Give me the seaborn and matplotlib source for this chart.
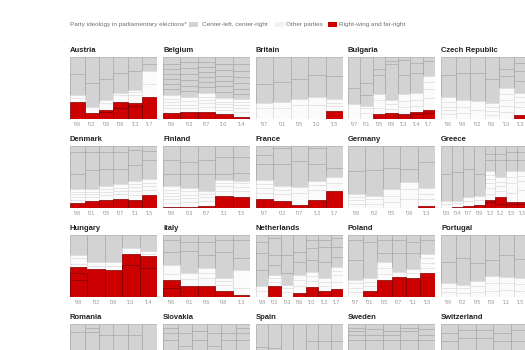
import pandas as pd
import matplotlib.pyplot as plt
import seaborn as sns
from matplotlib.patches import Rectangle

# vote shares per election, each bar listed bottom-up as party segments
countries = ['Austria', 'Belgium', 'Britain', 'Bulgaria', 'Czech Republic',
             'Denmark', 'Finland', 'France', 'Germany', 'Greece',
             'Hungary', 'Italy', 'Netherlands', 'Poland', 'Portugal',
             'Romania', 'Slovakia', 'Spain', 'Sweden', 'Switzerland']

years = {
    'Austria': ['99', '02', '06', '08', '13', '17'],
    'Belgium': ['99', '03', '07', '10', '14'],
    'Britain': ['97', '01', '05', '10', '15'],
    'Bulgaria': ['97', '01', '05', '09', '13', '14', '17'],
    'Czech Republic': ['96', '98', '02', '06', '10', '13'],
    'Denmark': ['98', '01', '05', '07', '11', '15'],
    'Finland': ['99', '03', '07', '11', '15'],
    'France': ['97', '02', '07', '12', '17'],
    'Germany': ['98', '02', '05', '09', '13'],
    'Greece': ['00', '04', '07', '09', '12', '12', '15', '15'],
    'Hungary': ['98', '02', '06', '10', '14'],
    'Italy': ['96', '01', '06', '08', '13'],
    'Netherlands': ['98', '02', '03', '06', '10', '12', '17'],
    'Poland': ['97', '01', '05', '07', '11', '15'],
    'Portugal': ['99', '02', '05', '09', '11', '15'],
    'Romania': ['96', '00', '04', '08', '12', '16'],
    'Slovakia': ['98', '02', '06', '10', '12', '16'],
    'Spain': ['96', '00', '04', '08', '11', '15', '16'],
    'Sweden': ['02', '06', '10', '14', '18'],
    'Switzerland': ['99', '03', '07', '11', '15'],
}

right_wing = {
    'Austria': [[27], [10], [11, 4], [17.5, 10.5], [20.5, 5.5], [35]],
    'Belgium': [[9], [11], [12], [8], [4]],
    'Britain': [[], [], [], [], [12.6]],
    'Bulgaria': [[], [], [8], [9], [7.5], [7.5, 4.5], [9, 5]],
    'Czech Republic': [[], [], [], [], [], [6.9]],
    'Denmark': [[7.4], [12], [13.3], [13.9], [12.3], [21.1]],
    'Finland': [[1], [1.6], [4], [19], [17.7]],
    'France': [[15], [11], [4.3], [13.6], [28]],
    'Germany': [[], [], [], [], [4]],
    'Greece': [[], [1.5], [3.8], [5.6], [10, 3], [7, 11], [6.3, 3.7], [7, 3.5]],
    'Hungary': [[28, 11, 9], [45.5], [44], [52, 18], [46, 20]],
    'Italy': [[15, 12], [17], [18], [10], [4]],
    'Netherlands': [[], [17], [], [6], [15.5], [10], [13]],
    'Poland': [[], [9], [27], [32], [31], [38]],
    'Portugal': [[], [], [], [], [], []],
    'Romania': [[4.5], [19.5], [13], [3], [1], []],
    'Slovakia': [[9], [3], [12], [5], [5], [8, 8]],
    'Spain': [[], [], [], [], [], [], []],
    'Sweden': [[1.4], [2.9], [5.7], [12.9], [17.5]],
    'Switzerland': [[22.5, 3], [26.7, 2], [28.9, 1], [26.6], [29.4]],
}

other = {
    'Austria': [[7, 5], [9], [11, 4], [10, 4], [12, 5, 4], [21, 21]],
    'Belgium': [[8, 6, 5, 5, 6], [6, 6, 6, 6], [8, 6, 5, 5, 6], [6, 5, 5, 4, 6], [7, 6, 5, 5, 5]],
    'Britain': [[17, 9], [18, 9], [22, 11], [23, 12], [8, 5, 6]],
    'Bulgaria': [[24], [10, 7, 4], [10, 12, 10], [7, 9, 6], [11, 11, 10], [9, 10, 11], [20, 14, 12, 10]],
    'Czech Republic': [[8, 6, 6, 8, 7], [10, 9, 11], [14, 15], [6, 7, 7, 6], [11, 10, 10, 9, 10], [12, 8, 8, 7]],
    'Denmark': [[6, 5, 4, 4, 4], [5, 5, 4, 4], [7, 5, 5, 5], [8, 6, 5, 5], [9, 7, 6, 5, 4], [8, 7, 5, 5]],
    'Finland': [[7, 6, 5, 5, 5, 6], [8, 6, 6, 5, 5], [8, 6, 5, 5], [9, 7, 5, 5], [9, 7, 6, 4]],
    'France': [[9, 8, 7, 6], [12, 6, 6], [20, 10], [15, 8, 6], [12, 10]],
    'Germany': [[7, 6, 5, 5], [7, 7, 6], [10, 10, 10], [15, 15, 12], [10, 9, 9]],
    'Greece': [[7, 5], [6, 4.5], [8, 6.2], [8, 6.4], [10, 9, 8, 7, 6, 7], [9, 8, 7, 8], [15, 15, 10, 10], [18, 16, 8, 8]],
    'Hungary': [[5, 10, 5], [5, 6], [6, 6], [9], [4, 4]],
    'Italy': [[10, 14], [12, 10], [12, 8, 8], [10, 6, 4], [10, 30]],
    'Netherlands': [[9, 8], [8, 6, 5], [8, 6, 6], [12, 10, 8], [10, 8, 7.5], [8, 7, 6], [12, 10, 7, 6]],
    'Poland': [[8, 7, 7, 6], [8, 7, 7], [10, 10, 9], [8], [8, 6], [9, 8, 8, 7]],
    'Portugal': [[8, 7, 8], [7, 7, 6], [8, 9, 9], [10, 12, 12], [12, 10, 10], [10, 11, 10]],
    'Romania': [[20, 10], [15, 10], [12, 8], [10, 8], [15, 10], [20, 12]],
    'Slovakia': [[10, 8], [15, 10, 8], [8, 7], [9, 8], [8, 7, 6], [10, 8, 7]],
    'Spain': [[10, 8], [10, 8], [8, 7], [6, 5], [12, 10], [15, 12, 10], [14, 12, 8]],
    'Sweden': [[8, 6, 5], [8, 7, 6], [8, 7, 7], [7, 7, 7], [8, 8, 6]],
    'Switzerland': [[8, 7], [9, 7], [10, 8], [12, 10], [10, 8]],
}

center = {
    'Austria': [[33, 28], [39, 42], [35, 35], [33, 25], [30, 23], [12, 11]],
    'Belgium': [[9, 8, 8, 8, 8, 8, 12], [10, 9, 9, 9, 10, 10, 8], [9, 8, 8, 9, 8, 8, 8],
                [10, 9, 9, 8, 9, 9, 12], [9, 8, 9, 10, 10, 10, 12]],
    'Britain': [[31, 43], [32, 41], [32, 35], [36, 29], [37, 31]],
    'Bulgaria': [[26, 50], [18, 19, 42], [31, 9, 20], [57, 5, 7], [31, 24, 5], [32, 16, 10], [23, 7]],
    'Czech Republic': [[36, 29], [44, 26], [46, 25], [38, 36], [19, 12, 19], [20, 15, 13, 10]],
    'Denmark': [[24, 36, 10], [32, 28, 10], [28, 27, 10], [25, 27, 10], [27, 24, 6], [31, 15, 8]],
    'Finland': [[20, 22, 23], [23, 20, 25], [27, 22, 23], [10, 27, 18], [12, 27, 17]],
    'France': [[26, 14, 15], [36, 25, 4], [42, 24], [28, 25, 4], [15, 35]],
    'Germany': [[37, 40], [41, 39], [35, 35], [21, 37], [42, 26]],
    'Greece': [[43, 45], [46, 42], [45, 37], [35, 45], [17, 10, 13], [27, 10, 13], [17, 13, 10], [17, 13, 10]],
    'Hungary': [[32], [43], [44], [21], [26]],
    'Italy': [[22, 19, 8], [35, 15, 11], [22, 21, 11], [43, 19, 8], [19, 29, 8]],
    'Netherlands': [[27, 27, 18, 11], [16, 16, 27, 5], [19, 29, 32], [21, 16, 27], [19, 19, 13, 8],
                    [26, 24, 11, 8], [17, 16, 14, 5]],
    'Poland': [[32, 32, 8], [58, 11], [15, 21, 8], [31, 21, 8], [26, 18, 11], [22, 8]],
    'Portugal': [[34, 43], [43, 37], [29, 45], [26, 40], [36, 32], [30, 39]],
    'Romania': [[52.5, 13], [42.5, 7, 6], [49, 18], [61, 18], [57, 17], [68]],
    'Slovakia': [[47, 11, 8, 7], [29, 20, 15], [47, 15, 11], [43, 20, 15], [48, 12, 14], [33, 11, 8, 7]],
    'Spain': [[45, 37], [43, 39], [43, 42], [45, 44], [50, 28], [35, 28], [38, 28]],
    'Sweden': [[53.6, 8, 6, 5, 7], [50.1, 8, 10, 8], [46.3, 8, 6, 12], [40.1, 14, 6, 6], [34.5, 8, 10, 8]],
    'Switzerland': [[31.5, 13, 15], [32.3, 13, 10], [29.1, 13, 10], [23.4, 13, 15], [24.6, 18, 10]],
}

legend_labels = ['Center-left, center-right', 'Other parties', 'Right-wing and far-right']

face = {'center': '#d3d3d3', 'other': '#fbfbfb', 'right': '#cc0000'}
edge = {'center': '#a9a9a9', 'other': '#dcdcdc', 'right': '#7d0000'}


def stack_table(country):
    rows = []
    for i in range(len(years[country])):
        parts = ([('right', v) for v in right_wing[country][i]]
                 + [('other', v) for v in other[country][i]]
                 + [('center', v) for v in center[country][i]])
        total = sum(v for _, v in parts)
        top = 0
        for level, (cat, v) in enumerate(parts):
            top += v / total * 100
            rows.append({'bar': i, 'level': level, 'cat': cat, 'top': top})
    return pd.DataFrame(rows)


sns.set_theme(style='white')
plt.rcParams['font.family'] = ['Liberation Sans Narrow', 'Liberation Sans', 'DejaVu Sans']

W, H = 525, 350
fig = plt.figure(figsize=(W / 100, H / 100), dpi=100)

col_x = [70, 163, 256, 348, 441]
row_y = [57, 146, 235, 324]
pw, ph = 87, 62

for k, country in enumerate(countries):
    r, c = divmod(k, 5)
    ax = fig.add_axes([col_x[c] / W, 1 - (row_y[r] + ph) / H, pw / W, ph / H])
    df = stack_table(country)
    n = len(years[country])
    # draw tallest cumulative segments first so lower ones sit on top
    for level in sorted(df['level'].unique(), reverse=True):
        sub = df[df['level'] == level]
        for cat, g in sub.groupby('cat'):
            sns.barplot(data=g, x='bar', y='top', order=list(range(n)),
                        color=face[cat], saturation=1, width=1,
                        edgecolor=edge[cat], linewidth=0.5,
                        errorbar=None, ax=ax)
    ax.set_ylim(0, 100)
    ax.set_xlim(-0.5, n - 0.5)
    ax.set_yticks([])
    if r < 3:
        ax.set_xticks(range(n))
        ax.set_xticklabels(["'" + y for y in years[country]])
    else:
        # bottom row runs past the crop, its year labels fall outside
        ax.set_xticks([])
    ax.tick_params(axis='x', length=0, pad=2, labelsize=4, labelcolor='#9a9a9a')
    ax.set_xlabel('')
    ax.set_ylabel('')
    sns.despine(ax=ax, left=True, bottom=True)
    ax.text(0, 1.05, country, transform=ax.transAxes, ha='left', va='bottom',
            fontsize=5.5, fontweight='bold', color='#222222')

# legend row
ly = 1 - 24.3 / H
fig.text(70 / W, ly, 'Party ideology in parliamentary elections*', ha='left', va='center',
         fontsize=4.6, color='#707070')
swatches = [(189, 'center', 202), (275, 'other', 286), (328, 'right', 339)]
for (sx, cat, tx), label in zip(swatches, legend_labels):
    fig.patches.append(Rectangle((sx / W, 1 - 27 / H), 9 / W, 5 / H, transform=fig.transFigure,
                                 facecolor=face[cat] if cat != 'other' else '#f2f2f2',
                                 edgecolor='none'))
    fig.text(tx / W, ly, label, ha='left', va='center', fontsize=4.6, color='#707070')

fig.savefig('out.png', dpi=100)
